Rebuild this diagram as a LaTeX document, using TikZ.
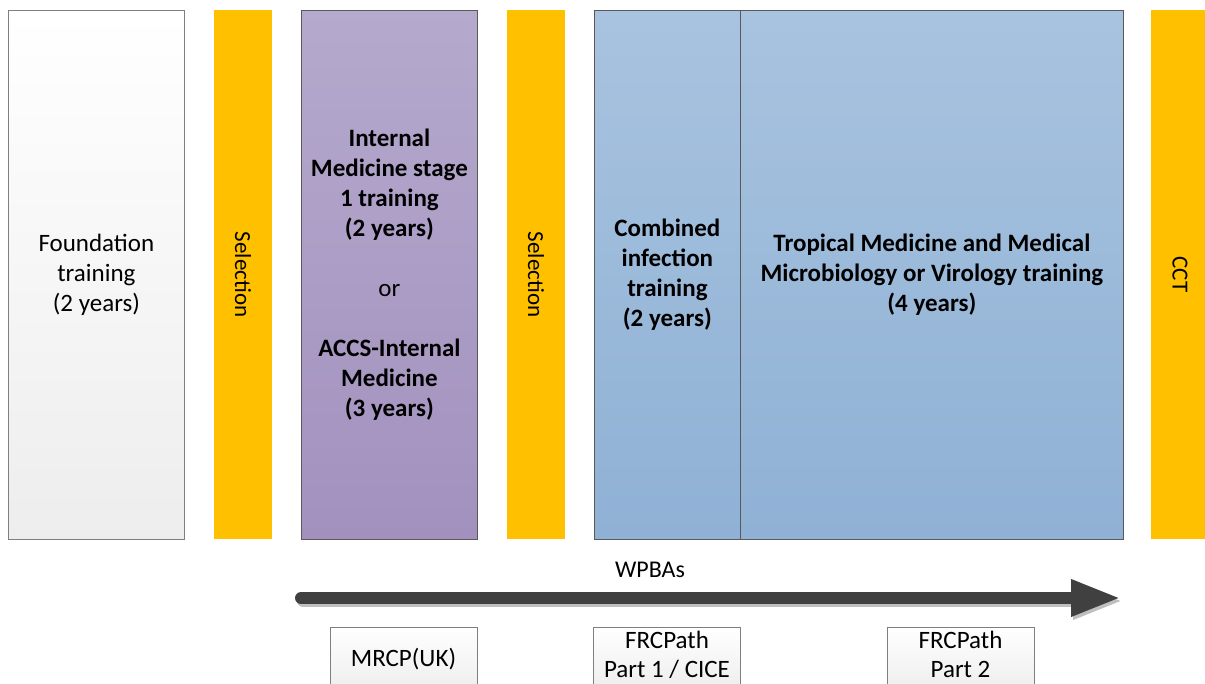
\documentclass[tikz,border=0pt]{standalone}
\usepackage{fontspec}
\setmainfont{Carlito}
\usetikzlibrary{arrows.meta,positioning}
\definecolor{selyellow}{HTML}{FFC000}
\definecolor{framegray}{HTML}{7F7F7F}
\definecolor{darkframe}{HTML}{595959}
\definecolor{purpletop}{RGB}{181,169,205}
\definecolor{purplebot}{RGB}{162,145,190}
\definecolor{bluetop}{RGB}{168,195,223}
\definecolor{bluebot}{RGB}{143,177,213}
\definecolor{arrowgray}{HTML}{404040}
\begin{document}
\begin{tikzpicture}[x=1pt,y=-1pt,
	stage/.style={draw=darkframe, line width=0.8pt, anchor=north west, minimum height=529pt, inner sep=0pt, align=center, font=\fontsize{25}{30}\selectfont},
	selbar/.style={fill=selyellow, minimum width=529pt, minimum height=58pt, inner sep=0pt, rotate=-90, font=\fontsize{23}{30}\selectfont},
	exam/.style={draw=framegray, line width=0.8pt, top color=white, bottom color=black!7, anchor=north, minimum width=147pt, minimum height=64pt, inner sep=0pt, align=center, font=\fontsize{25}{29}\selectfont}
	]
	\useasboundingbox (0,0) rectangle (1205,684);
	\clip (0,0) rectangle (1205,684);
	\fill[white] (0,0) rectangle (1205,684);
	% training stages
	\node[stage, draw=framegray, top color=white, bottom color=black!7, minimum width=176pt] (found) at (8,10) {Foundation\\training\\(2 years)};
	\node[stage, top color=purpletop, bottom color=purplebot, minimum width=176pt] (imt) at (301,10)
		{\textbf{Internal}\\\textbf{Medicine stage}\\\textbf{1 training}\\\textbf{(2 years)}\\[30pt]or\\[30pt]\textbf{ACCS-Internal}\\\textbf{Medicine}\\\textbf{(3 years)}};
	\node[stage, top color=bluetop, bottom color=bluebot, minimum width=146pt] (cit) at (594,10)
		{\textbf{Combined}\\\textbf{infection}\\\textbf{training}\\\textbf{(2 years)}};
	\node[stage, top color=bluetop, bottom color=bluebot, minimum width=383pt] (tm) at (740,10)
		{\textbf{Tropical Medicine and Medical}\\\textbf{Microbiology or Virology training}\\\textbf{(4 years)}};
	% selection bars
	\foreach \xc/\name/\txt in {243/sel1/Selection, 536/sel2/Selection, 1180/cct/CCT}
	{
		\node[selbar] (\name) at (\xc,274.5) {\txt};
	}
	% WPBA arrow
	\coordinate (wpStart) at (301,598);
	\coordinate (wpEnd) at (1121,598);
	\node[font=\fontsize{24}{30}\selectfont] (wpba) at (650,570) {WPBAs};
	\draw[black!25, line width=12pt, line cap=round, -{Triangle[length=50pt,width=34pt]}] ([shift={(2,3)}]wpStart) -- ([shift={(2,3)}]wpEnd);
	\draw[arrowgray, line width=12pt, line cap=round, -{Triangle[length=50pt,width=34pt]}] (wpStart) -- (wpEnd);
	% exams
	\node[exam] (mrcp) at (403.5,627) {MRCP(UK)};
	\node[exam, text depth=10pt] (frc1) at (667,627) {FRCPath\\Part 1 / CICE};
	\node[exam, text depth=10pt] (frc2) at (960.5,627) {FRCPath\\Part 2};
\end{tikzpicture}
\end{document}
